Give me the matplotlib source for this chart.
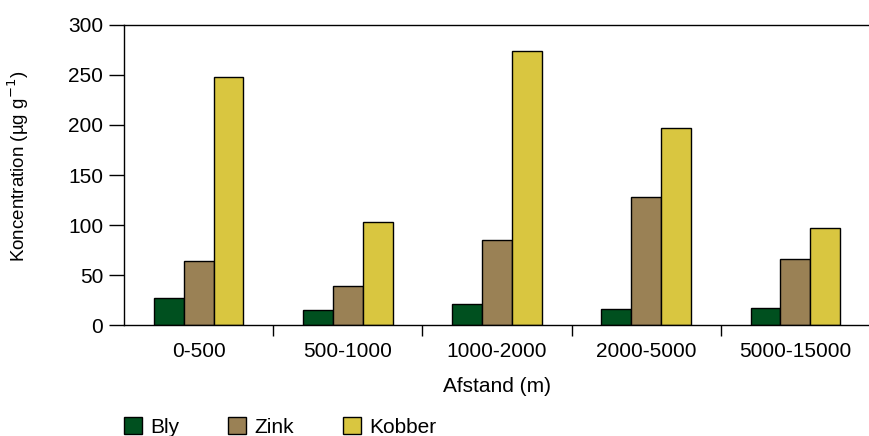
import numpy as np
import matplotlib.pyplot as plt

plt.rcParams['font.family'] = ['Liberation Sans', 'DejaVu Sans']

# data
afstand = ['0-500', '500-1000', '1000-2000', '2000-5000', '5000-15000']
bly = [27, 15, 21, 16, 17]
zink = [64, 39, 85, 128, 66]
kobber = [248, 103, 274, 197, 97]

serier = ['Bly', 'Zink', 'Kobber']
farver = ['#00501f', '#9a8155', '#d9c640']

fig = plt.figure(figsize=(8.7, 4.36), dpi=100)
ax = fig.add_axes([124/870, 111/436, 746/870, 300/436])

x = np.arange(len(afstand))
w = 0.2
for i, (vals, navn, farve) in enumerate(zip([bly, zink, kobber], serier, farver)):
    ax.bar(x + (i - 1) * w, vals, w, color=farve, edgecolor='black',
           linewidth=1.0, label=navn)

ax.set_xlim(-0.5, len(afstand) - 0.5 - 8/151)
ax.set_ylim(0, 300)
ax.set_yticks(range(0, 301, 50))
ax.set_xticks(x)
ax.set_xticklabels(afstand)
ax.set_xticks(np.arange(len(afstand)) + 0.5, minor=True)

ax.spines['right'].set_visible(False)
for s in ['left', 'top', 'bottom']:
    ax.spines[s].set_linewidth(1.0)
ax.tick_params(axis='y', direction='out', length=11, width=1.0, labelsize=15, pad=4)
ax.tick_params(axis='x', which='major', length=0, labelsize=15, pad=12)
ax.tick_params(axis='x', which='minor', direction='out', length=8, width=1.0)

ax.set_xlabel('Afstand (m)', fontsize=15, labelpad=12)
ax.set_ylabel('Koncentration (µg g$^{-1}$)', fontsize=13.5)
ax.yaxis.set_label_coords(-0.124, 0.53)

fig.legend(loc='center left', bbox_to_anchor=(116/870, 9/436), ncol=3, frameon=False,
           fontsize=15, handlelength=0.85, handleheight=0.85, handletextpad=0.4,
           columnspacing=2.35, borderaxespad=0)

fig.savefig('out.png', dpi=100)
